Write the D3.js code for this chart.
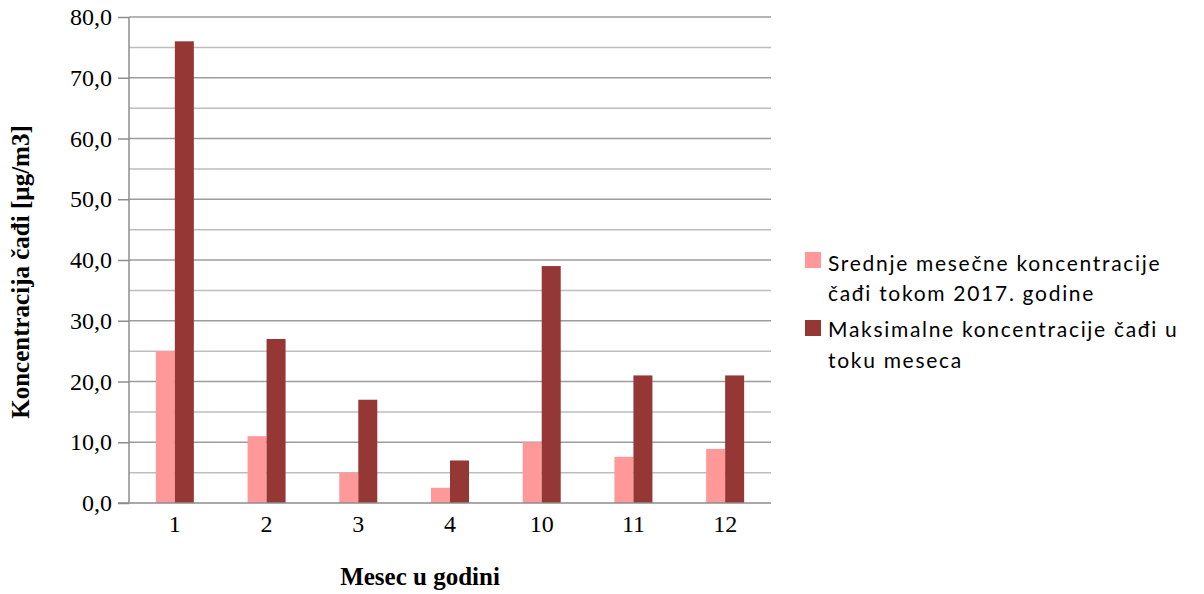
<!DOCTYPE html>
<html>
<head>
<meta charset="utf-8">
<script src="https://cdn.jsdelivr.net/npm/d3@7"></script>
<style>
  html, body { margin: 0; padding: 0; background: #fff; }
  svg { display: block; }
</style>
</head>
<body>
<svg id="chart" width="1204" height="594"></svg>
<script>
// Months of 2017 with measurements
const months = ["1", "2", "3", "4", "10", "11", "12"];
// Mean monthly soot concentration [µg/m3]
const meanValues = [25, 11, 5, 2.5, 10, 7.6, 8.9];
// Maximum soot concentration within the month [µg/m3]
const maxValues = [76, 27, 17, 7, 39, 21, 21];
const seriesNames = [
  ["Srednje mesečne koncentracije", "čađi tokom 2017. godine"],
  ["Maksimalne koncentracije čađi u", "toku meseca"]
];
const seriesColors = ["#FF9999", "#953735"];
const yTicks = [0, 10, 20, 30, 40, 50, 60, 70, 80];
const yMinor = [5, 15, 25, 35, 45, 55, 65, 75];

const svg = d3.select("#chart");
const plotLeft = 129, plotRight = 771, plotTop = 17, plotBottom = 503;

const x = d3.scaleBand().domain(months).range([plotLeft, plotRight]).paddingInner(0).paddingOuter(0);
const y = d3.scaleLinear().domain([0, 80]).range([plotBottom, plotTop]);
const barW = 19;

// Minor gridlines
svg.append("g").selectAll("line").data(yMinor).join("line")
  .attr("x1", plotLeft).attr("x2", plotRight)
  .attr("y1", d => y(d)).attr("y2", d => y(d))
  .attr("stroke", "#bdbdbd").attr("stroke-width", 1.5);

// Major gridlines
svg.append("g").selectAll("line").data(yTicks.filter(d => d > 0)).join("line")
  .attr("x1", plotLeft).attr("x2", plotRight)
  .attr("y1", d => y(d)).attr("y2", d => y(d))
  .attr("stroke", "#9c9c9c").attr("stroke-width", 1.5);

// Bars
const series = [meanValues, maxValues];
series.forEach((vals, si) => {
  svg.append("g").selectAll("rect").data(months).join("rect")
    .attr("x", (m) => x(m) + x.bandwidth() / 2 - barW + si * barW)
    .attr("width", barW)
    .attr("y", (m, i) => y(vals[i]))
    .attr("height", (m, i) => y(0) - y(vals[i]))
    .attr("fill", seriesColors[si]);
});

// Y axis
const yAxis = svg.append("g").attr("transform", `translate(${plotLeft},0)`)
  .call(d3.axisLeft(y).tickValues(yTicks).tickSize(11).tickPadding(6)
    .tickFormat(d => d3.format(".1f")(d).replace(".", ",")));
yAxis.select(".domain").attr("stroke", "#8c8c8c").attr("stroke-width", 1.5)
  .attr("d", `M0,${plotBottom}V${plotTop}`);
yAxis.selectAll(".tick line").attr("stroke", "#8c8c8c").attr("stroke-width", 1.5);
yAxis.selectAll(".tick text")
  .attr("font-family", "'Liberation Serif', 'Times New Roman', serif")
  .attr("font-size", 24).attr("fill", "#000");

// X axis
const xAxis = svg.append("g").attr("transform", `translate(0,${plotBottom})`)
  .call(d3.axisBottom(x).tickSize(0).tickPadding(12));
xAxis.select(".domain").attr("stroke", "#8c8c8c").attr("stroke-width", 1.5)
  .attr("d", `M${plotLeft - 11},0H${plotRight}`);
xAxis.selectAll(".tick text")
  .attr("font-family", "'Liberation Serif', 'Times New Roman', serif")
  .attr("font-size", 24).attr("fill", "#000");

// Axis titles
svg.append("text")
  .attr("x", 420).attr("y", 585)
  .attr("text-anchor", "middle")
  .attr("font-family", "'Liberation Serif', 'Times New Roman', serif")
  .attr("font-weight", "bold").attr("font-size", 25)
  .text("Mesec u godini");

svg.append("text")
  .attr("transform", "translate(29,272) rotate(-90)")
  .attr("text-anchor", "middle")
  .attr("font-family", "'Liberation Serif', 'Times New Roman', serif")
  .attr("font-weight", "bold").attr("font-size", 25)
  .text("Koncentracija čađi [µg/m3]");

// Legend
const legend = svg.append("g");
const swatchY = [252, 320];
const lineY = [[271, 301], [337, 368]];
seriesNames.forEach((lines, si) => {
  legend.append("rect")
    .attr("x", 805).attr("y", swatchY[si]).attr("width", 16).attr("height", 16)
    .attr("fill", seriesColors[si]);
  lines.forEach((t, li) => {
    legend.append("text")
      .attr("x", 828).attr("y", lineY[si][li])
      .attr("font-family", "Lato, 'Open Sans', sans-serif")
      .attr("font-size", 21).attr("letter-spacing", 1.7).attr("fill", "#000")
      .text(t);
  });
});
</script>
</body>
</html>
